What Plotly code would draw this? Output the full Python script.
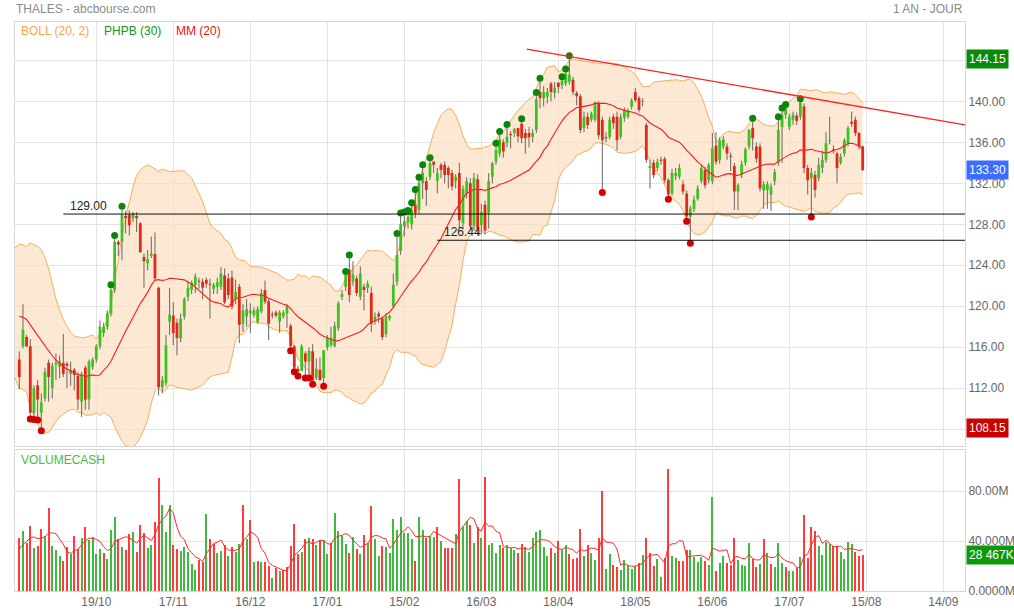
import numpy as np
import pandas as pd
import plotly.graph_objects as go
from plotly.subplots import make_subplots

# ---------------- data ----------------
tick_labels = ["19/10", "17/11", "16/12", "17/01", "15/02", "16/03",
               "18/04", "18/05", "16/06", "17/07", "15/08", "14/09"]
tick_days = [21, 42, 63, 84, 105, 126, 147, 168, 189, 210, 231, 252]

# sessions before the first visible candle (only used to seed the indicators)
pre_close = [118.5, 119.0, 119.5, 120.5, 121.0, 121.5, 121.0, 121.3, 122.5, 123.5, 124.0,
             123.2, 121.0, 119.8, 118.5, 117.6, 116.5, 115.0, 114.2, 113.5, 113.3]
pre_high = [119.3, 119.8, 120.2, 121.3, 121.8, 122.2, 121.9, 122.0, 123.2, 124.3, 124.6,
            124.1, 122.8, 121.2, 119.6, 118.6, 117.4, 116.2, 115.1, 114.6, 114.3]
pre_low = [117.6, 118.2, 118.6, 119.6, 120.2, 120.6, 120.2, 120.4, 121.3, 122.4, 123.1,
           122.4, 120.4, 119.2, 118.0, 116.8, 115.6, 114.3, 113.3, 112.6, 111.6]
pre_volume = [30.0, 28.0, 35.0, 32.6]

open_ = [114.8, 116.1, 117.0, 116.1, 109.6, 112.3, 109.6, 111.0, 114.5, 112.0,
         114.3, 114.1, 114.5, 114.4, 113.4, 113.8, 113.2, 110.7, 114.0, 110.9,
         114.1, 114.8, 116.1, 117.4, 118.0, 119.3, 121.6, 126.3, 126.3, 128.8,
         128.9, 128.6, 128.8, 128.1, 124.8, 124.2, 124.9, 125.1, 121.8, 112.1,
         112.5, 118.5, 119.1, 118.4, 116.85, 119.0, 120.9, 121.6, 122.1, 122.5,
         122.4, 122.6, 122.2, 121.7, 121.9, 121.9, 123.0, 122.7, 122.8, 120.75,
         121.9, 118.3, 119.0, 119.3, 119.15, 118.5, 119.5, 121.6, 120.5, 119.2,
         119.4, 118.5, 119.0, 119.3, 118.1, 116.1, 113.9, 113.7, 115.4, 114.6,
         115.6, 113.0, 113.8, 113.0, 116.0, 116.2, 116.1, 117.85, 120.9, 121.9,
         123.6, 122.4, 122.7, 120.9, 121.9, 121.8, 121.3, 118.6, 119.3, 118.8,
         117.3, 118.8, 120.0, 122.4, 125.4, 127.8, 128.2, 128.0, 129.9, 129.4,
         132.0, 132.2, 132.65, 134.1, 132.2, 133.8, 133.8, 133.5, 133.0, 132.2,
         133.0, 128.1, 131.0, 132.0, 127.8, 132.4, 127.9, 129.9, 129.1, 132.65,
         134.1, 134.9, 136.0, 135.9, 136.8, 136.9, 137.4, 137.8, 136.9, 136.9,
         136.55, 137.2, 140.9, 140.3, 140.45, 141.75, 140.8, 141.8, 141.6, 141.75,
         141.9, 142.1, 140.8, 140.5, 137.4, 138.5, 138.2, 138.2, 139.8, 138.2,
         136.5, 136.55, 138.5, 138.5, 136.55, 138.4, 138.5, 139.5, 140.9, 140.3,
         139.95, 137.7, 133.5, 134.0, 133.5, 134.3, 134.4, 132.3, 131.0, 132.7,
         132.65, 131.9, 131.0, 128.75, 129.5, 130.5, 132.2, 133.3, 132.3, 132.2,
         135.7, 134.3, 135.6, 135.6, 134.7, 133.7, 131.2, 132.8, 134.0, 135.6,
         137.4, 135.6, 135.6, 131.3, 131.35, 130.9, 132.2, 134.0, 137.5, 138.7,
         137.5, 138.2, 138.6, 138.5, 139.5, 133.5, 132.5, 132.8, 132.5, 133.5,
         134.3, 136.1, 135.3, 134.9, 134.0, 134.9, 135.9, 138.0, 138.2, 136.9,
         135.6]
high = [115.6, 120.2, 117.2, 116.8, 112.3, 112.8, 111.5, 114.0, 114.8, 114.5,
        115.4, 115.2, 117.3, 114.6, 114.6, 114.0, 113.6, 113.6, 114.2, 114.8,
        115.0, 116.3, 118.6, 118.4, 119.6, 121.8, 126.6, 126.45, 129.45, 129.3,
        129.35, 129.2, 129.2, 128.2, 125.15, 125.5, 126.8, 127.2, 121.9, 113.2,
        117.2, 121.8, 120.4, 118.8, 119.3, 120.9, 122.5, 122.5, 123.2, 122.8,
        122.7, 122.8, 122.7, 122.3, 122.8, 123.8, 123.7, 123.2, 123.5, 122.6,
        122.2, 120.2, 120.7, 120.3, 119.9, 120.0, 121.7, 122.5, 120.7, 119.5,
        119.6, 119.6, 119.6, 120.2, 118.3, 116.2, 114.2, 116.3, 115.6, 116.0,
        116.3, 114.9, 115.0, 115.7, 117.2, 118.0, 118.5, 120.5, 121.6, 123.1,
        124.7, 124.4, 123.0, 123.9, 122.2, 122.5, 121.9, 119.4, 119.5, 119.0,
        119.3, 119.2, 123.2, 126.8, 128.8, 128.9, 129.05, 129.8, 131.1, 132.3,
        133.5, 132.6, 134.2, 134.15, 133.5, 134.0, 134.1, 133.7, 133.3, 132.9,
        134.0, 131.8, 132.6, 132.5, 133.0, 132.9, 130.0, 130.3, 133.0, 134.1,
        135.6, 136.75, 136.3, 137.45, 137.1, 137.4, 137.42, 138.0, 137.3, 137.5,
        137.3, 140.55, 141.95, 141.5, 141.3, 141.9, 141.9, 141.9, 142.1, 142.85,
        144.15, 142.4, 141.0, 140.7, 139.0, 138.9, 139.0, 140.0, 140.0, 138.5,
        137.0, 138.5, 138.8, 139.0, 138.8, 139.4, 139.3, 140.3, 141.3, 140.5,
        140.3, 137.9, 134.3, 134.3, 134.4, 134.6, 134.6, 132.5, 133.4, 133.5,
        133.9, 132.3, 131.3, 129.8, 130.8, 131.8, 133.8, 133.6, 134.0, 136.9,
        137.0, 136.5, 136.6, 135.9, 135.0, 134.0, 132.0, 134.2, 135.5, 137.3,
        138.05, 136.0, 135.9, 132.2, 132.2, 132.0, 133.4, 138.2, 139.05, 139.4,
        138.8, 139.0, 138.9, 139.95, 139.8, 133.8, 133.5, 133.2, 134.5, 135.2,
        137.0, 138.5, 135.7, 135.1, 134.9, 136.4, 137.6, 139.0, 138.5, 137.0,
        135.7]
low = [111.9, 115.9, 116.0, 109.3, 109.25, 109.2, 108.15, 110.7, 110.7, 111.0,
       112.8, 113.0, 113.1, 112.0, 112.2, 111.8, 109.9, 109.2, 109.9, 109.9,
       113.8, 114.5, 115.8, 117.0, 117.7, 119.0, 121.3, 124.9, 124.5, 127.1,
       126.9, 128.2, 127.25, 125.2, 121.8, 123.5, 124.7, 122.5, 111.3, 111.5,
       112.2, 117.2, 116.2, 115.2, 116.5, 118.7, 120.5, 121.2, 121.3, 121.7,
       120.7, 121.8, 118.8, 121.2, 121.2, 121.6, 120.2, 120.7, 119.7, 120.2,
       116.4, 117.5, 118.0, 117.4, 118.9, 118.3, 119.3, 120.2, 116.7, 118.8,
       118.9, 117.4, 118.8, 117.9, 115.95, 113.9, 113.5, 113.7, 113.3, 113.3,
       112.7, 112.8, 112.75, 112.5, 115.7, 116.0, 116.0, 117.6, 120.6, 121.5,
       120.4, 122.0, 121.0, 120.6, 119.6, 121.3, 117.5, 118.2, 118.4, 116.7,
       117.0, 118.6, 119.8, 122.0, 125.0, 126.8, 127.6, 127.5, 128.6, 129.0,
       130.5, 129.8, 132.3, 133.0, 131.0, 132.5, 132.0, 131.5, 131.3, 131.5,
       127.6, 127.5, 130.5, 127.4, 127.4, 126.9, 127.0, 127.0, 127.6, 132.0,
       133.8, 134.6, 134.5, 135.5, 135.4, 136.5, 136.0, 135.9, 134.9, 135.5,
       136.0, 136.9, 139.3, 139.5, 139.8, 140.0, 140.3, 140.8, 141.2, 141.5,
       141.6, 140.6, 139.6, 136.9, 137.0, 137.3, 138.0, 138.0, 136.3, 131.4,
       136.0, 136.3, 137.3, 135.2, 136.3, 138.0, 138.3, 139.2, 139.9, 138.9,
       139.5, 134.0, 131.5, 132.5, 133.2, 133.8, 132.0, 130.75, 130.8, 132.3,
       132.4, 130.9, 128.6, 126.44, 129.2, 130.3, 132.0, 131.5, 132.0, 131.9,
       133.8, 133.9, 135.3, 134.3, 133.2, 129.4, 129.4, 132.5, 133.7, 135.3,
       135.2, 134.0, 131.2, 129.5, 129.5, 129.3, 131.8, 133.7, 134.0, 138.3,
       137.2, 137.7, 137.7, 138.2, 133.0, 130.9, 129.0, 130.6, 132.2, 133.0,
       134.0, 135.8, 134.9, 132.0, 133.8, 134.6, 135.6, 137.5, 136.6, 135.3,
       133.2]
close = [113.1, 117.7, 116.1, 109.6, 112.0, 110.9, 110.6, 113.6, 113.1, 114.2,
         114.5, 114.6, 113.4, 114.2, 113.8, 113.3, 110.9, 113.3, 110.9, 114.6,
         114.8, 116.1, 118.0, 118.0, 119.3, 121.6, 126.3, 126.0, 128.9, 128.6,
         127.9, 129.05, 128.6, 125.3, 124.4, 124.6, 125.15, 122.7, 112.1, 112.8,
         116.2, 119.2, 117.4, 116.9, 118.8, 120.7, 121.8, 122.3, 122.9, 122.4,
         121.8, 122.2, 122.1, 122.1, 122.4, 123.2, 120.4, 121.1, 119.95, 121.4,
         118.2, 119.6, 119.7, 119.6, 119.6, 119.7, 121.3, 120.45, 118.3, 119.1,
         119.1, 119.4, 119.4, 120.0, 116.1, 114.0, 113.6, 116.1, 114.6, 115.65,
         112.8, 113.9, 112.8, 115.7, 116.9, 116.9, 118.1, 120.3, 121.2, 123.05,
         121.1, 123.1, 121.3, 123.2, 121.6, 122.2, 118.3, 119.0, 119.0, 117.0,
         119.0, 119.05, 122.1, 125.0, 128.0, 128.3, 128.7, 129.4, 129.1, 132.0,
         133.0, 131.35, 133.95, 133.8, 133.0, 133.3, 132.8, 132.8, 131.7, 132.65,
         128.4, 131.5, 132.2, 127.8, 132.5, 127.6, 129.2, 127.4, 132.2, 133.95,
         135.25, 136.3, 135.1, 136.55, 136.7, 137.3, 136.6, 136.4, 136.4, 136.5,
         136.9, 140.2, 140.3, 140.9, 140.9, 140.9, 141.35, 141.4, 142.0, 142.7,
         142.6, 140.9, 140.5, 137.2, 138.5, 137.7, 138.8, 139.8, 136.7, 136.2,
         136.4, 138.2, 137.85, 136.2, 138.5, 139.15, 139.1, 140.1, 140.1, 139.15,
         140.05, 134.3, 133.7, 132.8, 134.1, 134.2, 132.3, 130.9, 133.0, 133.0,
         133.5, 131.2, 128.75, 129.55, 130.4, 131.5, 133.5, 131.8, 133.8, 135.4,
         134.1, 136.2, 136.3, 134.9, 134.6, 131.2, 131.8, 133.85, 135.3, 137.2,
         136.4, 134.4, 131.5, 131.9, 131.9, 131.7, 133.1, 137.2, 138.7, 139.3,
         138.5, 138.7, 138.1, 139.9, 133.5, 132.3, 133.0, 131.35, 133.8, 134.3,
         135.9, 136.2, 135.15, 133.5, 134.6, 136.2, 137.4, 137.8, 136.9, 135.6,
         133.3]
volume_m = [42.4, 48.3, 38.4, 52.4, 34.4, 36.2, 49.7, 44.3, 66.6, 35.7,
            33.0, 28.2, 24.4, 35.2, 29.8, 43.8, 33.6, 42.2, 51.3, 40.5,
            43.2, 29.8, 33.6, 30.3, 25.5, 48.6, 59.3, 41.6, 34.9, 32.5,
            45.6, 47.0, 31.4, 53.2, 46.2, 34.4, 37.1, 55.6, 90.8, 69.0,
            47.3, 68.5, 36.8, 33.8, 32.0, 35.4, 30.9, 21.5, 16.9, 25.0,
            23.6, 62.0, 41.6, 37.6, 30.3, 32.2, 36.8, 27.7, 35.2, 30.9,
            37.9, 69.0, 41.6, 56.9, 23.4, 24.4, 23.1, 23.6, 20.1, 10.7,
            18.8, 16.1, 16.9, 19.6, 35.7, 53.7, 29.8, 30.9, 41.6, 42.4,
            41.6, 36.8, 40.8, 40.5, 29.8, 38.7, 62.1, 48.0, 44.0, 37.3,
            30.7, 43.5, 33.9, 29.3, 44.5, 38.7, 68.0, 41.3, 28.0, 36.0,
            35.5, 30.1, 57.3, 48.5, 59.5, 46.1, 46.1, 41.9, 24.3, 59.5,
            48.8, 42.4, 44.0, 43.5, 51.5, 39.7, 34.4, 34.7, 34.4, 45.3,
            89.9, 51.5, 56.0, 52.5, 38.1, 51.5, 42.1, 91.2, 36.5, 38.7,
            30.1, 36.5, 34.4, 36.5, 34.7, 32.5, 30.1, 37.9, 34.9, 31.2,
            42.7, 47.2, 48.8, 35.5, 28.0, 34.4, 30.7, 40.3, 32.8, 36.5,
            29.3, 25.9, 26.1, 49.9, 28.0, 37.1, 30.7, 24.5, 42.7, 80.0,
            17.9, 29.3, 20.8, 19.5, 16.5, 24.5, 20.5, 17.9, 20.0, 22.7,
            28.5, 42.7, 30.1, 20.0, 25.3, 11.2, 26.7, 97.3, 28.0, 26.1,
            23.7, 24.0, 32.5, 32.8, 26.9, 23.5, 27.5, 24.3, 20.8, 75.5,
            16.0, 22.7, 28.0, 22.1, 20.8, 42.1, 24.8, 20.8, 20.0, 38.1,
            25.6, 19.5, 21.6, 41.3, 30.1, 21.3, 19.5, 38.1, 22.7, 19.5,
            16.0, 16.0, 18.1, 27.5, 60.8, 26.1, 50.9, 48.0, 36.0, 28.5,
            39.5, 37.3, 36.0, 36.0, 31.5, 25.6, 39.5, 37.6, 31.5, 28.0,
            28.467]
# 1 = volume bar drawn green (up session), 0 = red
volume_up = [0, 1, 0, 0, 1, 0, 0, 1, 0, 1, 1, 1, 0, 0, 1, 0, 0, 1, 0, 1,
             1, 1, 1, 0, 1, 1, 1, 0, 1, 0, 0, 1, 0, 0, 0, 1, 1, 0, 0, 1,
             1, 1, 0, 0, 1, 1, 1, 1, 1, 0, 0, 1, 0, 0, 1, 1, 0, 1, 0, 1,
             1, 0, 1, 0, 1, 0, 1, 0, 0, 1, 0, 1, 0, 0, 0, 0, 0, 1, 0, 1,
             0, 1, 0, 1, 1, 0, 1, 1, 1, 1, 0, 1, 0, 1, 0, 1, 0, 1, 1, 0,
             1, 1, 1, 1, 1, 1, 1, 1, 0, 1, 1, 0, 1, 1, 0, 1, 0, 0, 0, 1,
             0, 1, 1, 0, 1, 0, 1, 0, 1, 1, 1, 1, 0, 1, 1, 1, 0, 0, 1, 1,
             1, 1, 1, 1, 1, 0, 1, 0, 1, 1, 0, 0, 0, 0, 1, 0, 1, 1, 0, 0,
             1, 1, 0, 0, 1, 1, 1, 1, 1, 0, 1, 0, 0, 0, 1, 1, 0, 0, 1, 1,
             0, 0, 0, 1, 1, 1, 1, 0, 1, 1, 0, 1, 1, 0, 0, 0, 1, 1, 1, 1,
             0, 0, 1, 0, 1, 0, 1, 1, 1, 0, 1, 1, 0, 1, 0, 0, 0, 0, 1, 1,
             1, 1, 0, 0, 1, 1, 1, 1, 0, 0, 0]

support_levels = [129.00, 126.44]
support_start_days = [12, 114]
trend_days = [138.4, 257.9]
trend_prices = [145.1, 137.7]

# ---------------- styling ----------------
FONT = "Arial, Liberation Sans, Helvetica, sans-serif"
GREEN_BODY = "#3dc21f"
RED_BODY = "#dd2a1a"
WICK = "#6a6560"
VOL_GREEN = "#41b941"
VOL_RED = "#ff3b3b"
GRID = "#e3e3e3"
BORDER = "#d6d6d6"
X_RANGE = [-1.17, 257.9]

n = len(close)
days = np.arange(n)
npre = len(pre_close)
all_days = np.arange(-npre, n)

# indicators
s_close = pd.Series(pre_close + close)
ma20 = s_close.rolling(20).mean()
sd20 = s_close.rolling(20).std(ddof=0)
bb_up = (ma20 + 2 * sd20).values
bb_lo = (ma20 - 2 * sd20).values
band_mask = ~np.isnan(bb_up)

s_hi = pd.Series(pre_high + high)
s_lo = pd.Series(pre_low + low)
hh = (s_hi >= s_hi.rolling(30, min_periods=1).max() - 1e-9).values[npre:]
ll = (s_lo <= s_lo.rolling(30, min_periods=1).min() + 1e-9).values[npre:]

s_vol = pd.Series(pre_volume + volume_m)
vol_ma = s_vol.rolling(5).mean().values[len(pre_volume):]

fig = make_subplots(rows=2, cols=1, shared_xaxes=False, vertical_spacing=0.0)

# Bollinger band
fig.add_trace(go.Scatter(x=all_days[band_mask], y=bb_up[band_mask], mode="lines",
                         line=dict(color="#f6ad5a", width=1), hoverinfo="skip"), row=1, col=1)
fig.add_trace(go.Scatter(x=all_days[band_mask], y=bb_lo[band_mask], mode="lines",
                         line=dict(color="#f6ad5a", width=1), fill="tonexty",
                         fillcolor="rgba(252,224,194,0.72)", hoverinfo="skip"), row=1, col=1)

# wicks
wx, wy = [], []
for i in range(n):
    wx += [i, i, None]
    wy += [low[i], high[i], None]
fig.add_trace(go.Scatter(x=wx, y=wy, mode="lines", line=dict(color=WICK, width=1),
                         hoverinfo="skip"), row=1, col=1)

# bodies
for up, col in ((True, GREEN_BODY), (False, RED_BODY)):
    bx, by = [], []
    for i in range(n):
        if (close[i] >= open_[i]) == up:
            lo_b, hi_b = min(open_[i], close[i]), max(open_[i], close[i])
            if hi_b - lo_b < 0.1:
                mid = (hi_b + lo_b) / 2
                lo_b, hi_b = mid - 0.05, mid + 0.05
            bx += [i, i, None]
            by += [lo_b, hi_b, None]
    fig.add_trace(go.Scatter(x=bx, y=by, mode="lines", line=dict(color=col, width=2.8),
                             hoverinfo="skip"), row=1, col=1)

# MM(20)
fig.add_trace(go.Scatter(x=days, y=ma20.values[npre:], mode="lines",
                         line=dict(color="#ff1a1a", width=1.1), hoverinfo="skip"), row=1, col=1)

# PHPB(30) dots
high_arr = np.array(high)
low_arr = np.array(low)
fig.add_trace(go.Scatter(x=days[hh], y=high_arr[hh] + 0.3, mode="markers",
                         marker=dict(color="#0b860b", size=7), hoverinfo="skip"), row=1, col=1)
fig.add_trace(go.Scatter(x=days[ll], y=low_arr[ll] - 0.3, mode="markers",
                         marker=dict(color="#d40000", size=7), hoverinfo="skip"), row=1, col=1)

# volume
fig.add_trace(go.Bar(x=days, y=volume_m, width=0.58,
                     marker=dict(color=[VOL_GREEN if u else VOL_RED for u in volume_up], line_width=0),
                     hoverinfo="skip"), row=2, col=1)
fig.add_trace(go.Scatter(x=days, y=vol_ma, mode="lines", line=dict(color="#ff2a2a", width=1),
                         hoverinfo="skip"), row=2, col=1)

# support lines and trend line
for lvl, d0 in zip(support_levels, support_start_days):
    fig.add_shape(type="line", xref="x", yref="y", x0=d0, x1=X_RANGE[1], y0=lvl, y1=lvl,
                  line=dict(color="#111111", width=1))
    fig.add_annotation(xref="x", yref="y", x=d0 + 1.2, y=lvl, text=f"{lvl:.2f}", showarrow=False,
                       xanchor="left", yanchor="bottom", yshift=-1,
                       font=dict(family=FONT, size=12, color="#222222"))
fig.add_shape(type="line", xref="x", yref="y", x0=trend_days[0], x1=trend_days[1],
              y0=trend_prices[0], y1=trend_prices[1], line=dict(color="#ff2020", width=1.3))

# axes (labels hidden under the value boxes are left blank, as in the reference)
price_ticks = [108, 112, 116, 120, 124, 128, 132, 136, 140, 144]
price_labels = ["" if t in (108, 144) else f"{t:.2f}" for t in price_ticks]
axis_font = dict(family=FONT, size=12, color="#666666")
for r in (1, 2):
    fig.update_xaxes(row=r, col=1, range=X_RANGE, tickvals=tick_days, ticktext=tick_labels,
                     showgrid=True, gridcolor=GRID, gridwidth=1, zeroline=False,
                     showline=True, linecolor=BORDER, mirror=True, ticks="",
                     showticklabels=(r == 2), tickfont=axis_font, automargin=False)
fig.update_xaxes(row=1, col=1, matches="x2")
fig.update_yaxes(row=1, col=1, range=[106.32, 147.74], side="right", tickvals=price_ticks,
                 ticktext=price_labels, showgrid=True, gridcolor=GRID,
                 zeroline=False, showline=True, linecolor=BORDER, mirror=True, ticks="",
                 tickfont=axis_font, domain=[0.254, 1.0], automargin=False)
fig.update_yaxes(row=2, col=1, range=[0, 112.8], side="right", tickvals=[0, 40, 80],
                 ticktext=["0.0000M", "40.000M", "80.00M"], showgrid=True, gridcolor=GRID,
                 zeroline=False, showline=True, linecolor=BORDER, mirror=True, ticks="",
                 tickfont=axis_font, domain=[0.0, 0.2478], automargin=False)

# value boxes on the right axis
def value_box(y, yref, text, bg):
    fig.add_annotation(xref="paper", yref=yref, x=1.0, y=y, xanchor="left", xshift=1,
                       text=text, showarrow=False, bgcolor=bg, borderpad=2,
                       font=dict(family=FONT, size=12, color="white"))

value_box(max(high), "y", f"{max(high):.2f}", "#0a8a0a")
value_box(close[-1], "y", f"{close[-1]:.2f}", "#3d6cff")
value_box(min(low), "y", f"{min(low):.2f}", "#cc0000")
value_box(volume_m[-1], "y2", f"{volume_m[-1] * 1000:,.0f}K".replace(",", " "), "#0a9a0a")

# titles and legend texts
def txt(x, y, text, color, size=12, anchor="left"):
    fig.add_annotation(xref="paper", yref="paper", x=x, y=y, text=text, showarrow=False,
                       xanchor=anchor, yanchor="middle", font=dict(family=FONT, size=size, color=color))

txt(-0.001, 1.0228, "THALES - abcbourse.com", "#8a8a8a", 12)
txt(1.0, 1.0228, "1 AN - JOUR", "#8a8a8a", 12, anchor="right")
txt(0.0045, 0.985, "BOLL (20, 2)", "#f5a64a")
txt(0.0915, 0.985, "PHPB (30)", "#159515")
txt(0.1675, 0.985, "MM (20)", "#ee1111")
txt(0.0045, 0.2295, "VOLUMECASH", "#44bb44")

fig.update_layout(width=1014, height=614, margin=dict(l=15, r=49, t=22, b=23, autoexpand=False),
                  paper_bgcolor="white", plot_bgcolor="white", showlegend=False,
                  hovermode=False, bargap=0, font=dict(family=FONT), dragmode=False)

fig.write_html("out.html", config={"displayModeBar": False, "staticPlot": True},
               post_script="document.body.style.margin='0';document.body.style.padding='0';")
